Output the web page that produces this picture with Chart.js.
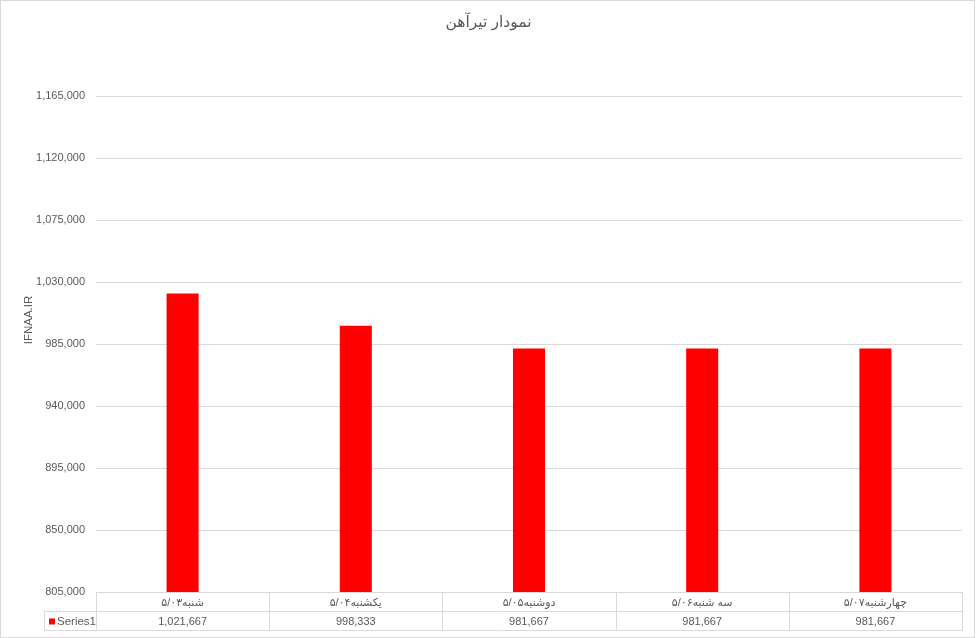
<!DOCTYPE html>
<html>
<head>
<meta charset="utf-8">
<script src="https://cdn.jsdelivr.net/npm/chart.js@4.4.1/dist/chart.umd.min.js"></script>
<style>
html,body{margin:0;padding:0;background:#fff;}
canvas{display:block;}
</style>
</head>
<body>
<canvas id="c" width="977" height="638"></canvas>
<script>
const chartTitle = 'نمودار تیرآهن';
const axisTitle = 'IFNAA.IR';
const seriesName = 'Series1';
const categories = ['شنبه۵/۰۳', 'یکشنبه۵/۰۴', 'دوشنبه۵/۰۵', 'سه شنبه۵/۰۶', 'چهارشنبه۵/۰۷'];
const values = [1021667, 998333, 981667, 981667, 981667];
const yMin = 805000;
const yMax = 1165000;
const yStep = 45000;

const FONT = "'Liberation Sans', 'DejaVu Sans', sans-serif";
const TEXT = '#595959';
const LINE = '#d9d9d9';
const BAR = '#ff0000';
const fmt = v => Number(v).toLocaleString('en-US');

const tablePlugin = {
  id: 'dataTable',
  afterDraw(chart) {
    const ctx = chart.ctx;
    const x = chart.scales.x;
    const area = chart.chartArea;
    const n = categories.length;
    const cw = (x.right - x.left) / n;
    const top = Math.round(area.bottom) + 0.5;
    const mid = top + 19;
    const bot = mid + 19;
    const keyLeft = 44.5;
    ctx.save();
    ctx.strokeStyle = LINE;
    ctx.lineWidth = 1;
    ctx.beginPath();
    ctx.moveTo(keyLeft, mid); ctx.lineTo(Math.round(x.right) + 0.5, mid);
    ctx.moveTo(keyLeft, bot); ctx.lineTo(Math.round(x.right) + 0.5, bot);
    for (let i = 0; i <= n; i++) {
      const px = Math.round(x.left + cw * i) + 0.5;
      ctx.moveTo(px, top); ctx.lineTo(px, bot);
    }
    ctx.moveTo(keyLeft, mid); ctx.lineTo(keyLeft, bot);
    ctx.stroke();
    ctx.fillStyle = TEXT;
    ctx.font = '11px ' + FONT;
    ctx.textAlign = 'center';
    ctx.textBaseline = 'middle';
    const vy = (mid + bot) / 2 + 0.5;
    values.forEach((v, i) => {
      ctx.fillText(fmt(v), x.getPixelForValue(i), vy);
    });
    ctx.fillStyle = BAR;
    ctx.fillRect(49, vy - 3, 6, 6);
    ctx.fillStyle = TEXT;
    ctx.textAlign = 'left';
    ctx.font = '11.5px ' + FONT;
    ctx.fillText(seriesName, 57, vy);
    ctx.save();
    ctx.translate(29, 320);
    ctx.rotate(-Math.PI / 2);
    ctx.textAlign = 'center';
    ctx.font = '11.5px ' + FONT;
    ctx.fillText(axisTitle, 0, 0);
    ctx.restore();
    ctx.strokeStyle = LINE;
    ctx.strokeRect(0.5, 0.5, 974, 637);
    ctx.restore();
  }
};

new Chart(document.getElementById('c'), {
  type: 'bar',
  data: {
    labels: categories,
    datasets: [{
      label: seriesName,
      data: values,
      backgroundColor: BAR,
      borderWidth: 0,
      barPercentage: 0.185,
      categoryPercentage: 1
    }]
  },
  options: {
    responsive: false,
    animation: false,
    devicePixelRatio: 1,
    layout: { padding: { left: 15, right: 15, top: 0, bottom: 0 } },
    plugins: {
      legend: { display: false },
      tooltip: { enabled: false },
      title: {
        display: true,
        text: chartTitle,
        color: TEXT,
        font: { family: FONT, size: 15.5, weight: 'normal' },
        padding: { top: 13, bottom: 64.4 }
      }
    },
    scales: {
      x: {
        type: 'category',
        grid: { display: false, drawTicks: false },
        border: { display: true, color: LINE, width: 1 },
        ticks: {
          color: TEXT,
          font: { family: FONT, size: 11 },
          padding: 4,
          maxRotation: 0,
          autoSkip: false
        },
        afterFit(scale) { scale.height = 46; }
      },
      y: {
        min: yMin,
        max: yMax,
        grid: { color: LINE, drawTicks: false },
        border: { display: false },
        ticks: {
          stepSize: yStep,
          color: TEXT,
          font: { family: FONT, size: 11 },
          padding: 11,
          callback: v => fmt(v)
        },
        afterFit(scale) { scale.width = 81; }
      }
    }
  },
  plugins: [tablePlugin]
});
</script>
</body>
</html>
